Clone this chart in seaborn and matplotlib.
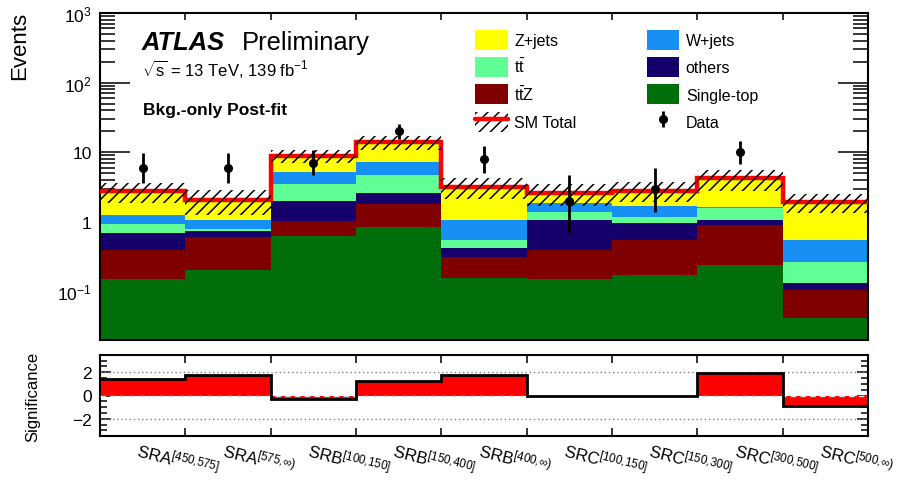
import numpy as np
import pandas as pd
import matplotlib
matplotlib.use("Agg")
import matplotlib.pyplot as plt
import matplotlib.transforms as mtransforms
from matplotlib.patches import Patch
from matplotlib.lines import Line2D
from matplotlib.ticker import FixedLocator, FixedFormatter, LogLocator, NullFormatter, MultipleLocator
import seaborn as sns

# ---------------- data ----------------
regions = ["SRA_450_575", "SRA_575_inf", "SRB_100_150", "SRB_150_400", "SRB_400_inf",
           "SRC_100_150", "SRC_150_300", "SRC_300_500", "SRC_500_inf"]
x_labels = [r"$\mathrm{SRA}^{[450{,}575]}$", r"$\mathrm{SRA}^{[575{,}\infty)}$",
            r"$\mathrm{SRB}^{[100{,}150]}$", r"$\mathrm{SRB}^{[150{,}400]}$",
            r"$\mathrm{SRB}^{[400{,}\infty)}$", r"$\mathrm{SRC}^{[100{,}150]}$",
            r"$\mathrm{SRC}^{[150{,}300]}$", r"$\mathrm{SRC}^{[300{,}500]}$",
            r"$\mathrm{SRC}^{[500{,}\infty)}$"]

# stacked backgrounds (top of stack first)
zjets      = [1.49, 0.98, 3.72, 6.80, 2.13, 0.74, 1.14, 2.56, 1.40]
wjets      = [0.33, 0.28, 1.69, 2.56, 0.52, 0.46, 0.49, 0.07, 0.28]
ttbar      = [0.24, 0.065, 1.53, 2.03, 0.13, 0.33, 0.21, 0.50, 0.129]
others     = [0.295, 0.13, 0.92, 0.80, 0.113, 0.675, 0.41, 0.175, 0.026]
ttz        = [0.244, 0.391, 0.41, 0.97, 0.149, 0.242, 0.377, 0.655, 0.064]
single_top = [0.151, 0.204, 0.63, 0.84, 0.158, 0.153, 0.173, 0.24, 0.041]
total_unc  = [0.9, 0.8, 1.8, 3.2, 1.1, 0.9, 0.9, 1.4, 0.6]

data    = [6, 6, 7, 20, 8, 2, 3, 10, 0]
data_lo = [3.62, 3.62, 4.7, 15.6, 5.1, 0.71, 1.37, 6.85, np.nan]
data_hi = [9.58, 9.58, 10.8, 25.4, 12.2, 4.64, 5.92, 14.3, np.nan]

significance = [1.45, 1.77, -0.32, 1.23, 1.78, 0.0, 0.0, 1.91, -0.94]

proc_names  = ["Z+jets", "W+jets", "ttbar", "others", "ttZ", "Single-top"]
proc_values = [zjets, wjets, ttbar, others, ttz, single_top]
proc_colors = ["#ffff00", "#1690f5", "#5fff96", "#15006b", "#800000", "#006e0a"]
proc_labels = ["Z+jets", "W+jets", r"$\mathrm{t\bar{t}}$", "others",
               r"$\mathrm{t\bar{t}Z}$", "Single-top"]

y_ticks = [0.1, 1, 10, 100, 1000]
y_tick_labels = [r"$10^{-1}$", "1", "10", r"$10^{2}$", r"$10^{3}$"]
sig_ticks = [-2, 0, 2]
sig_tick_labels = ["\u22122", "0", "2"]

# ---------------- style ----------------
sns.set_style("ticks")
plt.rcParams["font.family"] = ["Liberation Sans", "DejaVu Sans"]
plt.rcParams["mathtext.fontset"] = "custom"
plt.rcParams["mathtext.rm"] = "Liberation Sans"
plt.rcParams["mathtext.it"] = "Liberation Sans:italic"
plt.rcParams["mathtext.bf"] = "Liberation Sans:bold"
plt.rcParams["hatch.linewidth"] = 1.1
plt.rcParams["hatch.color"] = "black"
for k in ("text.color", "axes.labelcolor", "xtick.color", "ytick.color", "axes.edgecolor"):
    plt.rcParams[k] = "black"

W, H = 901, 481
fig = plt.figure(figsize=(W / 100, H / 100), dpi=100)
ax = fig.add_axes([100 / W, 1 - 341 / H, 768 / W, (341 - 14) / H])
ax2 = fig.add_axes([100 / W, 1 - 437.3 / H, 768 / W, (437.3 - 355.7) / H])

n = len(regions)
edges = np.arange(n + 1)
centers = edges[:-1] + 0.5

df = pd.DataFrame({
    "x": np.tile(centers, len(proc_names)),
    "w": np.concatenate([np.asarray(v, float) for v in proc_values]),
    "proc": np.repeat(proc_names, n),
})
sns.histplot(data=df, x="x", weights="w", hue="proc", hue_order=proc_names,
             multiple="stack", bins=n, binrange=(0, n), element="step", fill=True,
             palette=dict(zip(proc_names, proc_colors)), alpha=1, linewidth=0,
             legend=False, ax=ax)

total = np.sum([np.asarray(v, float) for v in proc_values], axis=0)
unc = np.asarray(total_unc)
ax.stairs(total, edges, baseline=None, color="red", linewidth=3.2, zorder=5)
ax.bar(edges[:-1], 2 * unc, bottom=total - unc, width=1, align="edge",
       fill=False, hatch="///", edgecolor="black", linewidth=0, zorder=6)

d = np.asarray(data, float)
mask = d > 0
dlo = np.asarray(data_lo, float)
dhi = np.asarray(data_hi, float)
eb = ax.errorbar(centers[mask], d[mask], yerr=[d[mask] - dlo[mask], dhi[mask] - d[mask]],
                 fmt="o", color="black", ms=5.5, elinewidth=2.0, capsize=0, zorder=7)

ax.set_yscale("log")
ax.set_xlim(0, n)
ax.set_ylim(0.02, 1000)
ax.set_xlabel("")
ax.set_ylabel("")
ax.yaxis.set_major_locator(FixedLocator(y_ticks))
ax.yaxis.set_major_formatter(FixedFormatter(y_tick_labels))
ax.yaxis.set_minor_locator(LogLocator(base=10, subs=np.arange(2, 10), numticks=20))
ax.yaxis.set_minor_formatter(NullFormatter())
ax.set_xticks(edges[1:-1])
ax.set_xticklabels([])
ax.tick_params(axis="y", which="major", direction="in", length=21.6, width=1.1,
               left=True, right=True, labelsize=12.5, pad=6)
ax.tick_params(axis="y", which="minor", direction="in", length=10.8, width=1.1,
               left=True, right=True)
ax.tick_params(axis="x", which="major", direction="in", length=5, width=1.1,
               top=True, bottom=True)
for s in ax.spines.values():
    s.set_linewidth(1.5)
    s.set_color("black")

# ---------------- significance panel ----------------
sig = np.asarray(significance, float)
ax2.stairs(sig, edges, baseline=0, fill=True, color="red", linewidth=0, zorder=2)
ax2.axhline(0, color="#dcdcdc", lw=1.0, ls=(0, (4, 3)), zorder=3)
for yv in (-2, 2):
    ax2.axhline(yv, color="gray", lw=1.0, ls=(0, (1, 2)), zorder=1)
ax2.stairs(sig, edges, baseline=None, color="black", linewidth=2.0, zorder=4)
ax2.set_xlim(0, n)
ax2.set_ylim(-3.5, 3.5)
ax2.set_yticks(sig_ticks)
ax2.set_yticklabels(sig_tick_labels)
ax2.yaxis.set_minor_locator(MultipleLocator(0.5))
ax2.set_xticks(edges[1:-1])
ax2.set_xticklabels([])
ax2.tick_params(axis="y", which="major", direction="in", length=8, width=1.1,
                left=True, right=True, labelsize=12.5, pad=6)
ax2.tick_params(axis="y", which="minor", direction="in", length=5, width=1.1,
                left=True, right=True)
ax2.tick_params(axis="x", which="major", direction="in", length=6, width=1.1,
                top=True, bottom=True)
for s in ax2.spines.values():
    s.set_linewidth(1.5)
    s.set_color("black")

trans = mtransforms.blended_transform_factory(ax2.transData, fig.transFigure)
for c, lab in zip(centers, x_labels):
    ax2.text(c - 0.03, 1 - 440 / H, lab, transform=trans, ha="left", va="top",
             rotation=-14, rotation_mode="anchor", fontsize=12)

# ---------------- texts ----------------
fig.text(20 / W, 1 - 12 / H, "Events", rotation=90, ha="center", va="top", fontsize=16)
fig.text(32.5 / W, 1 - 397 / H, "Significance", rotation=90, ha="center",
         va="center", fontsize=12)
fig.text(142 / W, 1 - 50 / H, "ATLAS", fontweight="bold", fontstyle="italic",
         fontsize=18.4, va="baseline")
fig.text(242 / W, 1 - 50 / H, "Preliminary", fontsize=18.4, va="baseline")
fig.text(142 / W, 1 - 76 / H, r"$\sqrt{\mathrm{s}}$ = 13 TeV, 139 fb$^{-1}$", fontsize=12,
         va="baseline")
fig.text(143 / W, 1 - 115 / H, "Bkg.-only Post-fit", fontweight="bold",
         fontsize=12.5, va="baseline")

# ---------------- legend ----------------
patches = {nm: Patch(facecolor=col, edgecolor="none") for nm, col in zip(proc_names, proc_colors)}
labels_map = dict(zip(proc_names, proc_labels))
sm_handle = (Patch(facecolor="none", edgecolor="black", hatch="///", linewidth=0),
             Line2D([], [], color="red", lw=3.2))
handles = [patches["Z+jets"], patches["ttbar"], patches["ttZ"], sm_handle,
           patches["W+jets"], patches["others"], patches["Single-top"], eb]
labels = [labels_map["Z+jets"], labels_map["ttbar"], labels_map["ttZ"], "SM Total",
          labels_map["W+jets"], labels_map["others"], labels_map["Single-top"], "Data"]
fig.legend(handles, labels, ncol=2, loc="upper left",
           bbox_to_anchor=(475 / W, 1 - 31 / H), frameon=False, fontsize=11.5,
           handlelength=2.05, handleheight=1.54, labelspacing=0.46,
           handletextpad=0.4, columnspacing=4.4, borderpad=0, borderaxespad=0)

fig.savefig("out.png", dpi=100)
